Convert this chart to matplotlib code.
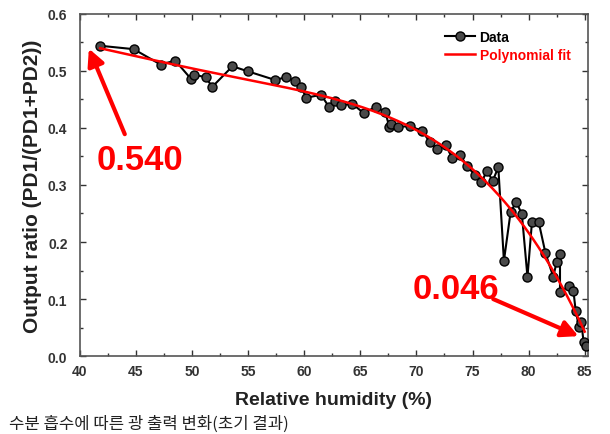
import numpy as np
import matplotlib
matplotlib.use('Agg')
import matplotlib.pyplot as plt
from matplotlib.ticker import MultipleLocator

# Data
##############################################################################
humidity = [41.8, 44.8, 47.2, 48.5, 49.9, 50.2, 51.2, 51.8, 53.6, 55.0,
            57.4, 58.4, 59.2, 59.7, 60.2, 61.5, 62.2, 62.7, 63.3, 64.3,
            65.3, 66.4, 67.2, 67.6, 67.7, 68.4, 69.4, 70.5, 71.2, 71.8,
            72.6, 73.2, 73.9, 74.5, 75.2, 75.8, 76.3, 76.8, 77.3, 77.8,
            78.4, 78.9, 79.4, 79.9, 80.3, 80.9, 81.5, 82.2, 82.5, 82.8,
            82.8, 83.6, 84.0, 84.2, 84.5, 84.7, 84.9, 85.1]
ratio = [0.544, 0.538, 0.511, 0.518, 0.486, 0.493, 0.489, 0.472, 0.508, 0.499,
         0.484, 0.489, 0.482, 0.471, 0.453, 0.458, 0.437, 0.447, 0.440, 0.442,
         0.426, 0.437, 0.428, 0.402, 0.407, 0.402, 0.403, 0.395, 0.375, 0.363,
         0.370, 0.347, 0.353, 0.333, 0.318, 0.305, 0.325, 0.307, 0.331, 0.167,
         0.253, 0.270, 0.249, 0.139, 0.235, 0.235, 0.181, 0.139, 0.165, 0.179,
         0.112, 0.123, 0.114, 0.079, 0.051, 0.060, 0.025, 0.018]

# points on the red fitted curve
fit_x = [41.8, 47.0, 52.3, 61.5, 68.0, 75.2, 78.9, 82.2, 85.0]
fit_y = [0.540, 0.516, 0.495, 0.460, 0.410, 0.325, 0.253, 0.140, 0.046]
fit_order = 4

caption = '수분 흡수에 따른 광 출력 변화(초기 결과)'

# Plot
##############################################################################
plt.rcParams['font.family'] = ['Liberation Sans', 'DejaVu Sans']
plt.rcParams['font.weight'] = 'bold'

fig = plt.figure(figsize=(6.1, 4.35), dpi=100)
ax = fig.add_axes([0.131, 0.179, 0.833, 0.787])

coef = np.polyfit(fit_x, fit_y, fit_order)
xfit = np.linspace(fit_x[0], fit_x[-1], 200)
yfit = np.polyval(coef, xfit)

ax.plot(humidity, ratio, '-o', color='black', linewidth=1.5,
        markerfacecolor='#4a4a4a', markeredgecolor='black', markersize=6.5,
        label='Data', zorder=3)
ax.plot(xfit, yfit, color='red', linewidth=1.8, label='Polynomial fit', zorder=4)

ax.set_xlim(40, 85.3)
ax.set_ylim(0, 0.6)
ax.xaxis.set_major_locator(MultipleLocator(5))
ax.xaxis.set_minor_locator(MultipleLocator(2.5))
ax.yaxis.set_major_locator(MultipleLocator(0.1))
ax.yaxis.set_minor_locator(MultipleLocator(0.05))
ax.tick_params(which='both', direction='in', top=True, right=True,
               labelsize=10, colors='#333333')
ax.tick_params(axis='y', pad=9)
ax.tick_params(axis='x', pad=6)
ax.tick_params(which='major', length=4, width=1)
ax.tick_params(which='minor', length=2, width=1)
for s in ax.spines.values():
    s.set_color('#555555')
    s.set_linewidth(1.2)

ax.set_xlabel('Relative humidity (%)', fontsize=14, fontweight='bold',
              color='#222222', labelpad=9)
ax.set_ylabel('Output ratio (PD1/(PD1+PD2))', fontsize=15, fontweight='bold',
              color='#222222', labelpad=4)

leg = ax.legend(loc='upper right', frameon=False, fontsize=10, handlelength=2.2,
                bbox_to_anchor=(0.99, 0.99), handletextpad=0.3, labelspacing=0.3)
leg.get_texts()[1].set_color('red')

# Annotations
arrow = dict(arrowstyle='-|>', color='red', lw=3, mutation_scale=25,
             shrinkA=0, shrinkB=0)
ax.annotate('', xy=(40.8, 0.539), xytext=(44.0, 0.389), arrowprops=arrow)
ax.text(41.5, 0.345, '0.540', fontsize=25, fontweight='bold', color='red',
        ha='left', va='center')
ax.annotate('', xy=(84.45, 0.035), xytext=(76.85, 0.100), arrowprops=arrow)
ax.text(69.7, 0.118, '0.046', fontsize=25, fontweight='bold', color='red',
        ha='left', va='center')

fig.text(0.015, 2 / 435, caption, fontsize=12, color='#222222', va='bottom', ha='left',
         fontweight='normal', family=['Noto Sans CJK KR', 'DejaVu Sans'])

fig.savefig('out.png', dpi=100)
